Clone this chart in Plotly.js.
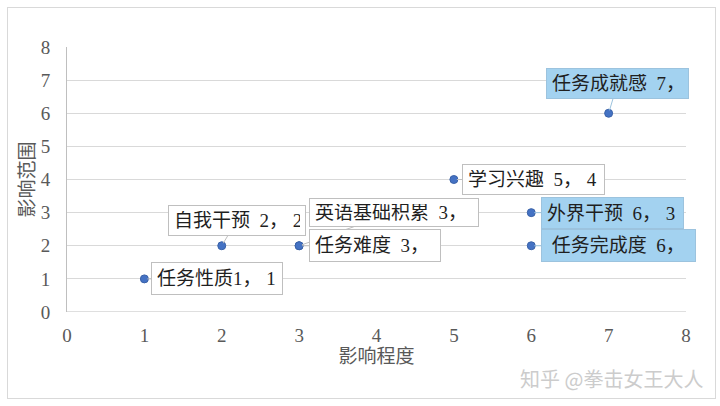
<!DOCTYPE html>
<html>
<head>
<meta charset="utf-8">
<script src="https://cdn.plot.ly/plotly-3.0.1.min.js"></script>
<style>
  html, body { margin: 0; padding: 0; background: #fff; }
  #wrap { position: relative; width: 720px; height: 406px; }
  #chart { position: absolute; left: 0; top: 0; width: 720px; height: 406px; }
  #frame { position: absolute; left: 7px; top: 7px; width: 707px; height: 390px; border: 1px solid #d9d9d9; pointer-events: none; }
</style>
</head>
<body>
<div id="wrap">
  <div id="chart"></div>
  <div id="frame"></div>
</div>
<script>
// 影响程度 / 影响范围 scatter with data callouts

const factorNames = ['任务性质', '自我干预', '英语基础积累', '任务难度', '学习兴趣', '外界干预', '任务完成度', '任务成就感'];
const degree = [1, 2, 3, 3, 5, 6, 6, 7];
const scope = [1, 2, 2, 2, 4, 3, 2, 6];
const labelTexts = ['任务性质1，&nbsp;1', '自我干预&nbsp;&nbsp;2，&nbsp;2', '英语基础积累&nbsp;&nbsp;3，', '任务难度&nbsp;&nbsp;3，', '学习兴趣&nbsp;&nbsp;5，&nbsp;4', '外界干预&nbsp;&nbsp;6，&nbsp;3', '&nbsp;任务完成度&nbsp;&nbsp;6，', '任务成就感&nbsp;&nbsp;7，'];
const highlighted = [false, false, false, false, false, true, true, true];
const axisTicks = [0, 1, 2, 3, 4, 5, 6, 7, 8];

// callout placement (pixel offsets from the point, box size)
const callouts = [
  { ax: 73, ay: 0, w: 132, h: 33 },
  { ax: 15, ay: -25, w: 138, h: 31 },
  { ax: 95, ay: -33, w: 170, h: 29 },
  { ax: 76, ay: 0, w: 132, h: 33 },
  { ax: 80, ay: 0, w: 143, h: 31 },
  { ax: 81, ay: 0, w: 143, h: 32 },
  { ax: 87, ay: 0, w: 155, h: 33 },
  { ax: 9, ay: -30, w: 143, h: 31 }
];

const FONT = '"Liberation Serif", "Noto Sans CJK SC", serif';
const PAD = 5;

const trace = {
  type: 'scatter', mode: 'markers',
  x: degree, y: scope,
  text: factorNames,
  marker: { color: '#4472C4', size: 8, line: { color: '#3a62a8', width: 1 } },
  hoverinfo: 'text+x+y',
  showlegend: false,
  cliponaxis: false
};

const annotations = labelTexts.map((t, i) => {
  const c = callouts[i];
  return {
    x: degree[i], y: scope[i], xref: 'x', yref: 'y',
    text: t,
    showarrow: true, arrowhead: 0, arrowwidth: 1,
    arrowcolor: highlighted[i] ? '#9cc3de' : '#bfbfbf',
    ax: c.ax, ay: c.ay, standoff: 3,
    width: c.w - 2 * PAD - 2, height: c.h - 2 * PAD - 2,
    align: 'left', valign: 'middle',
    bgcolor: highlighted[i] ? '#a3d2f0' : '#ffffff',
    bordercolor: highlighted[i] ? '#9cc3de' : '#bfbfbf',
    borderwidth: 1, borderpad: PAD,
    font: { family: FONT, size: 19, color: '#1f1f1f' }
  };
});

annotations.push({
  xref: 'paper', yref: 'paper', x: 1.03, y: -0.25,
  xanchor: 'right', yanchor: 'middle',
  text: '知乎 @拳击女王大人', showarrow: false,
  font: { family: '"Noto Sans CJK SC", sans-serif', size: 20, color: '#cccccc' }
});

const layout = {
  width: 720, height: 406,
  margin: { l: 67, r: 34, t: 47, b: 94 },
  paper_bgcolor: '#ffffff', plot_bgcolor: '#ffffff',
  font: { family: FONT, size: 19, color: '#595959' },
  xaxis: {
    range: [0, 8], tickvals: axisTicks, ticktext: axisTicks.map(String),
    showgrid: false, zeroline: false,
    showline: false,
    ticks: 'outside', ticklen: 6, tickcolor: 'rgba(0,0,0,0)',
    tickfont: { family: FONT, size: 19, color: '#595959' },
    title: { text: '影响程度', standoff: 4, font: { family: FONT, size: 19, color: '#595959' } },
    automargin: false, fixedrange: true
  },
  yaxis: {
    range: [0, 8], tickvals: axisTicks, ticktext: axisTicks.map(String),
    showgrid: true, gridcolor: '#d9d9d9', gridwidth: 1,
    zeroline: false, showline: true, linecolor: '#bfbfbf', linewidth: 1,
    ticks: 'outside', ticklen: 12, tickcolor: 'rgba(0,0,0,0)',
    tickfont: { family: FONT, size: 19, color: '#595959' },
    title: { text: '影响范围', standoff: 1, font: { family: FONT, size: 19, color: '#595959' } },
    automargin: false, fixedrange: true
  },
  shapes: [{
    type: 'line', xref: 'paper', yref: 'y', x0: 0, x1: 1, y0: 0, y1: 0,
    line: { color: '#bfbfbf', width: 1 }
  }],
  annotations: annotations,
  showlegend: false
};

Plotly.newPlot('chart', [trace], layout, { displayModeBar: false, staticPlot: true });
</script>
</body>
</html>
